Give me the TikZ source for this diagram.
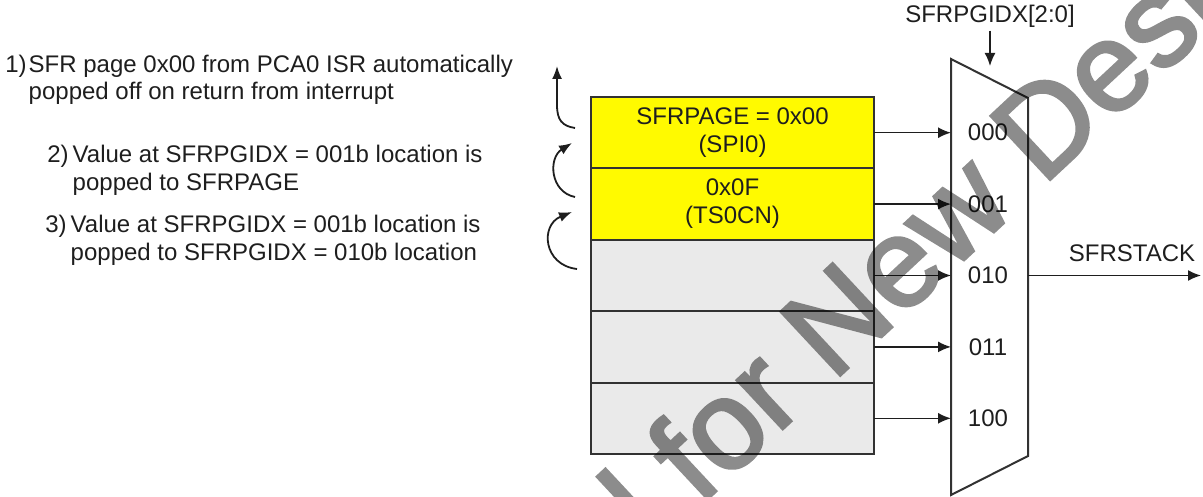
\documentclass[tikz,border=0pt]{standalone}
\usepackage{fontspec}
\setmainfont{Liberation Sans}
\newfontfamily\markfont[FakeBold=2.5]{Liberation Sans}
\usetikzlibrary{arrows.meta,positioning,calc}
\definecolor{stackYellow}{RGB}{255,250,0}
\definecolor{stackGray}{RGB}{234,234,234}
\definecolor{inkDark}{RGB}{30,30,30}
\definecolor{lineDark}{RGB}{50,50,50}
\tikzset{
  stack cell/.style={draw=lineDark,fill=stackGray,line width=1pt,minimum width=141.5pt,minimum height=35.7pt,inner sep=0pt,outer sep=0pt,align=center,text=inkDark,font=\fontsize{12}{14}\selectfont},
  stack cell yellow/.style={stack cell,fill=stackYellow},
  mux arrow/.style={-{Latex[length=6.5pt,width=5.5pt]},line width=0.8pt,draw=inkDark},
  pop arrow/.style={-{Latex[length=6.5pt,width=5pt]},line width=0.9pt,draw=inkDark},
  mux label/.style={text=inkDark,font=\fontsize{12}{14}\selectfont,inner sep=1.5pt},
  note text/.style={text=inkDark,font=\fontsize{12}{13.5}\selectfont,inner sep=0pt,anchor=base west},
  watermark text/.style={text=black,font=\markfont\fontsize{63}{63}\selectfont,rotate=43,anchor=base,inner sep=0pt}
}

\begin{document}
\begin{tikzpicture}[x=0.5pt,y=-0.5pt]
  \useasboundingbox (0,0) rectangle (1203,497);
  \clip (0,0) rectangle (1203,497);
  % SFR page stack
  \node[stack cell yellow] (row0) at (732.5,132.7) {SFRPAGE = 0x00\\(SPI0)};
  \node[stack cell yellow,below=0pt of row0] (row1) {0x0F\\(TS0CN)};
  \node[stack cell,below=0pt of row1] (row2) {};
  \node[stack cell,below=0pt of row2] (row3) {};
  \node[stack cell,below=0pt of row3] (row4) {};
  % index mux
  \coordinate (muxA) at (951,59);
  \coordinate (muxB) at (1028,98);
  \coordinate (muxC) at (1028,456);
  \coordinate (muxD) at (951,495);
  \coordinate (muxMid) at (988,0);
  \draw[line width=1pt,draw=lineDark] (muxA) -- (muxB) -- (muxC) -- (muxD) -- cycle;
  \node[mux label] (sel0) at (row0 -| muxMid) {000};
  \node[mux label] (sel1) at (row1 -| muxMid) {001};
  \node[mux label] (sel2) at (row2 -| muxMid) {010};
  \node[mux label] (sel3) at (row3 -| muxMid) {011};
  \node[mux label] (sel4) at (row4 -| muxMid) {100};
  \draw[mux arrow] (row0) -- (row0 -| muxA);
  \draw[mux arrow] (row1) -- (row1 -| muxA);
  \draw[mux arrow] (row2) -- (row2 -| muxA);
  \draw[mux arrow] (row3) -- (row3 -| muxA);
  \draw[mux arrow] (row4) -- (row4 -| muxA);
  % select and output
  \node[mux label] (idx) at (990,16) {SFRPGIDX[2:0]};
  \coordinate (idxTip) at (990,66);
  \draw[mux arrow] (idx) -- (idxTip);
  \coordinate (outEnd) at (1201,0);
  \draw[mux arrow] (row2 -| muxB) -- (row2 -| outEnd);
  \node[mux label] (stackOut) at (1132,253) {SFRSTACK};
  % notes
  \node[note text] (note1) at (5,73) {\begin{tabular}[t]{@{}l@{\hspace{1pt}}l@{}}1)&SFR page 0x00 from PCA0 ISR automatically\\&popped off on return from interrupt\end{tabular}};
  \node[note text] (note2) at (47,163) {\begin{tabular}[t]{@{}l@{\hspace{2pt}}l@{}}2)&Value at SFRPGIDX = 001b location is\\&popped to SFRPAGE\end{tabular}};
  \node[note text] (note3) at (45,233) {\begin{tabular}[t]{@{}l@{\hspace{2pt}}l@{}}3)&Value at SFRPGIDX = 001b location is\\&popped to SFRPGIDX = 010b location\end{tabular}};
  % pop arrows
  \coordinate (pop1a) at (575,128);
  \coordinate (pop1b) at (557,66);
  \coordinate (pop2a) at (575,197);
  \coordinate (pop2b) at (572,143);
  \coordinate (pop3a) at (577,269);
  \coordinate (pop3b) at (572,212);
  \draw[pop arrow] (pop1a) .. controls (562,126) and (557,120) .. (557,105) -- (pop1b);
  \draw[pop arrow] (pop2a) .. controls (550,192) and (548,158) .. (pop2b);
  \draw[pop arrow] (pop3a) .. controls (543,265) and (540,225) .. (pop3b);
  % watermark
  \begin{scope}[transparency group,opacity=0.45]
    \node[watermark text] (wm) at (628,573) {Not Recommended for New Designs};
  \end{scope}
\end{tikzpicture}
\end{document}
